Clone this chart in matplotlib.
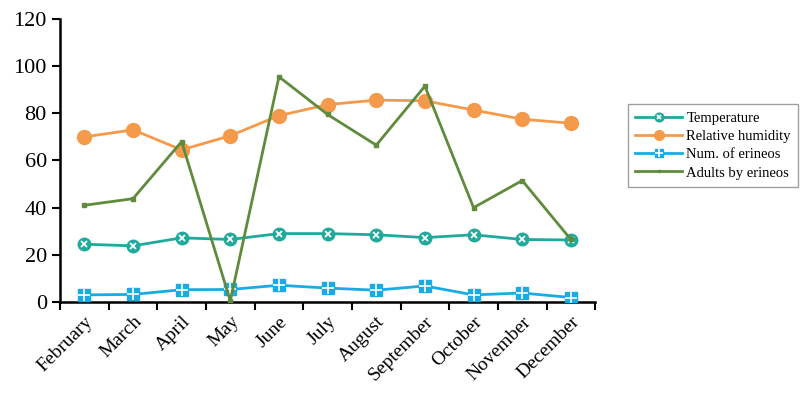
import matplotlib
matplotlib.use('Agg')
import matplotlib.pyplot as plt
import numpy as np
from matplotlib.legend_handler import HandlerTuple

plt.rcParams['font.family'] = ['Liberation Serif', 'DejaVu Serif']

months = ['February', 'March', 'April', 'May', 'June', 'July', 'August',
          'September', 'October', 'November', 'December']
temperature = [24.5, 23.8, 27.2, 26.5, 29.0, 29.0, 28.5, 27.3, 28.5, 26.5, 26.3]
humidity = [70.0, 73.0, 64.5, 70.5, 79.0, 83.7, 85.6, 85.3, 81.4, 77.5, 75.8]
num_erineos = [3.0, 3.2, 5.2, 5.3, 7.1, 5.9, 5.0, 6.8, 3.0, 3.8, 1.9]
adults = [41.0, 43.8, 68.0, 0.5, 95.5, 79.5, 66.5, 91.5, 40.0, 51.5, 26.5]

c_temp = '#1FAA9C'
c_hum = '#F59A4B'
c_num = '#1AABE3'
c_adu = '#5F8C3C'

x = np.arange(len(months))

fig = plt.figure(figsize=(8, 3.93), dpi=100)
ax = fig.add_axes([0.075, 0.2316, 0.669, 0.7201])

# temperature: circle with a white x
l1, = ax.plot(x, temperature, color=c_temp, lw=2, marker='o', ms=9, zorder=3)
m1, = ax.plot(x, temperature, ls='none', marker='x', color='white', ms=5, mew=1.3, zorder=4)
# relative humidity
l2, = ax.plot(x, humidity, color=c_hum, lw=2, marker='o', ms=10, zorder=3)
# number of erineos: square with white cross
l3, = ax.plot(x, num_erineos, color=c_num, lw=2, marker='s', ms=8, zorder=3)
m3, = ax.plot(x, num_erineos, ls='none', marker='+', color='white', ms=8, mew=1.2, zorder=4)
# adults by erineos
l4, = ax.plot(x, adults, color=c_adu, lw=2, marker='s', ms=3, zorder=5)

ax.set_xlim(-0.5, len(months) - 0.5)
ax.set_ylim(0, 120)
ax.set_yticks(range(0, 121, 20))
ax.set_xticks(x)
ax.set_xticklabels(months, rotation=45, ha='right', rotation_mode='anchor', fontsize=14)
ax.set_xticks(np.arange(-0.5, len(months)), minor=True)
ax.tick_params(axis='x', which='major', length=0, pad=8)
ax.tick_params(axis='x', which='minor', length=6, width=1.5, direction='out')
ax.tick_params(axis='y', length=6, width=1.5, direction='out', labelsize=16)

for s in ['top', 'right']:
    ax.spines[s].set_visible(False)
for s in ['left', 'bottom']:
    ax.spines[s].set_linewidth(1.8)
    ax.spines[s].set_color('black')

leg = fig.legend([(l1, m1), l2, (l3, m3), l4],
                 ['Temperature', 'Relative humidity', 'Num. of erineos', 'Adults by erineos'],
                 handler_map={tuple: HandlerTuple(ndivide=1, pad=0)},
                 loc='upper left', bbox_to_anchor=(0.785, 0.735), fontsize=10.5,
                 frameon=True, fancybox=False, edgecolor='#888888',
                 handlelength=3.2, borderpad=0.5, labelspacing=0.35, handletextpad=0.3,
                 markerscale=0.7, borderaxespad=0)
leg.get_frame().set_linewidth(1)

fig.savefig('out.png', dpi=100)
